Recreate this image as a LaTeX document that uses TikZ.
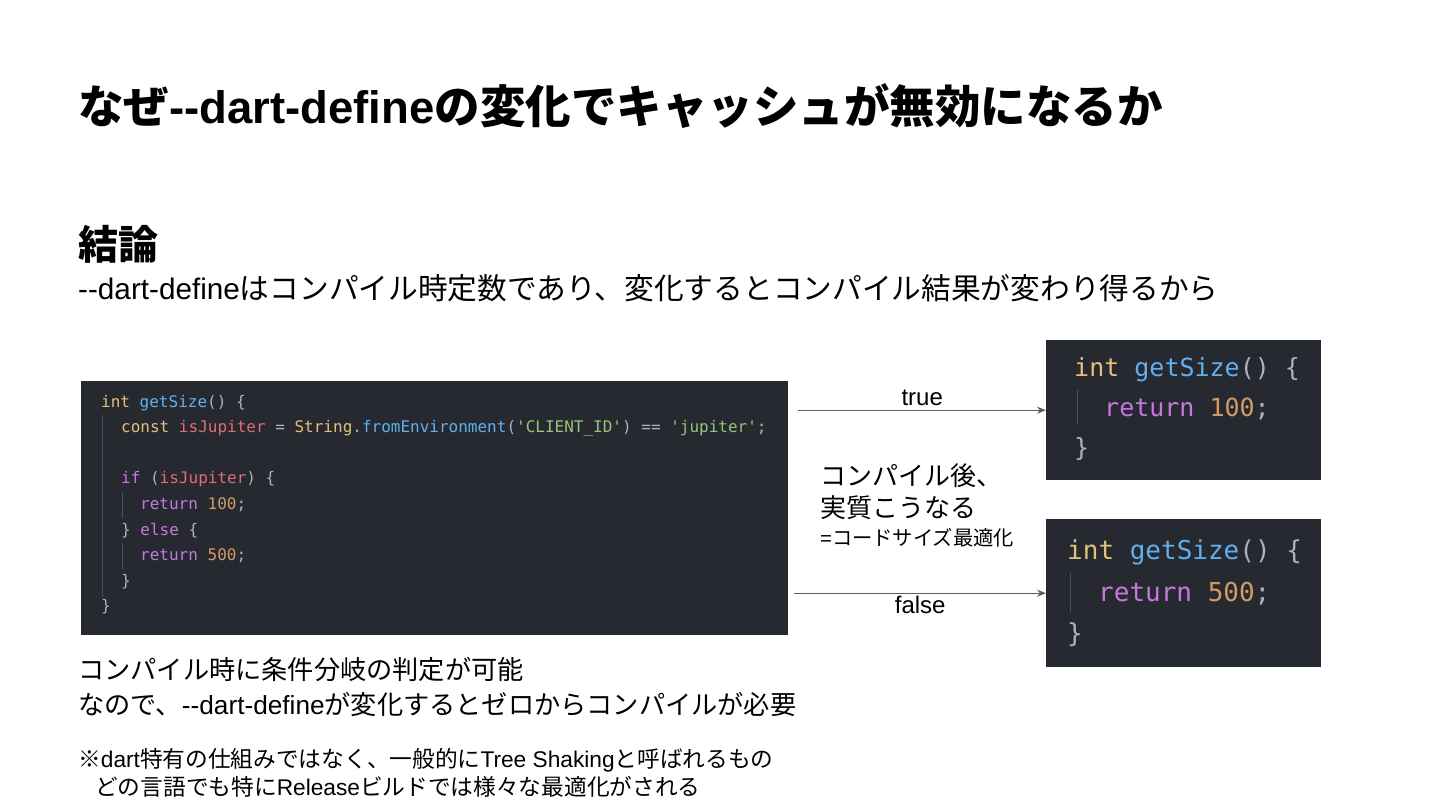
\documentclass[tikz,border=0pt]{standalone}
\usepackage{fontspec}
\setmainfont{Liberation Sans}
\setmonofont{DejaVu Sans Mono}
\newfontfamily\jp{Noto Sans CJK JP}
\usepackage{tikz}
\usetikzlibrary{arrows.meta,positioning,calc}
\definecolor{codebg}{HTML}{262930}
\definecolor{codefg}{HTML}{ABB2BF}
\definecolor{codeguide}{HTML}{4B5263}
\definecolor{tokyel}{HTML}{E5C07B}
\definecolor{tokblu}{HTML}{61AFEF}
\definecolor{tokred}{HTML}{E06C75}
\definecolor{tokgrn}{HTML}{98C379}
\definecolor{tokpur}{HTML}{C678DD}
\definecolor{tokorg}{HTML}{D19A66}
\definecolor{flowgray}{HTML}{5F5F5F}
\newcommand\J[1]{{\jp #1}}
\newcommand\tkY[1]{\textcolor{tokyel}{#1}}
\newcommand\tkB[1]{\textcolor{tokblu}{#1}}
\newcommand\tkR[1]{\textcolor{tokred}{#1}}
\newcommand\tkG[1]{\textcolor{tokgrn}{#1}}
\newcommand\tkP[1]{\textcolor{tokpur}{#1}}
\newcommand\tkO[1]{\textcolor{tokorg}{#1}}

\begin{document}
\begin{tikzpicture}[
  x=1pt, y=-1pt,
  txt/.style={anchor=base west, inner sep=0pt, align=left},
  ttl/.style={txt, font=\fontsize{45.5}{50}\selectfont\bfseries},
  hd/.style={txt, font=\fontsize{40}{46}\selectfont\bfseries},
  body/.style={txt, font=\fontsize{29.7}{34}\selectfont},
  note/.style={txt, font=\fontsize{22.7}{26}\selectfont},
  codebox/.style={fill=codebg, draw=none, anchor=north west, inner sep=0pt},
  code/.style={txt, text=codefg, font=\fontsize{16}{16}\selectfont\ttfamily},
  bigcode/.style={txt, text=codefg, font=\fontsize{25}{25}\selectfont\ttfamily},
  guide/.style={draw=codeguide, line width=1pt},
  flow/.style={draw=flowgray, line width=1.3pt, -{Stealth[length=9pt, width=7pt]}},
  lbl/.style={font=\fontsize{24}{28}\selectfont, inner sep=2pt},
]
\useasboundingbox[fill=white] (0,0) rectangle (1440,810);
% headings
\node[ttl] (title) at (78,124) {\J{なぜ}-{}-dart-define\J{の変化でキャッシュが無効になるか}};
\node[hd] (concl) at (78,260) {\J{結論}};
\node[body] (reason) at (78,299) {-{}-dart-define\J{はコンパイル時定数であり、変化するとコンパイル結果が変わり得るから}};
% source code
\node[codebox, minimum width=707pt, minimum height=254pt] (src) at (81,381) {};
\draw[guide] (102,415) -- (102,597);
\draw[guide] (122,492) -- (122,518);
\draw[guide] (122,543) -- (122,569);
\node[code] (s0) at (101,407) {\tkY{int} \tkB{getSize}() \{};
\node[code] (s1) at (121,432.6) {\tkY{const} \tkR{isJupiter} = \tkY{String}.\tkB{fromEnvironment}(\tkG{'CLIENT\_ID'}) == \tkG{'jupiter'};};
\node[code] (s3) at (121,483.8) {\tkP{if} (\tkR{isJupiter}) \{};
\node[code] (s4) at (140,509.4) {\tkP{return} \tkO{100};};
\node[code] (s5) at (121,535) {\} \tkP{else} \{};
\node[code] (s6) at (140,560.6) {\tkP{return} \tkO{500};};
\node[code] (s7) at (121,586.2) {\}};
\node[code] (s8) at (101,611.8) {\}};
% compiled results
\node[codebox, minimum width=275pt, minimum height=140pt] (dstT) at (1046,340) {};
\draw[guide] (1077,390) -- (1077,425);
\node[bigcode] (t0) at (1074,376) {\tkY{int} \tkB{getSize}() \{};
\node[bigcode] (t1) at (1104,416) {\tkP{return} \tkO{100};};
\node[bigcode] (t2) at (1074,456) {\}};
\node[codebox, minimum width=275pt, minimum height=148pt] (dstF) at (1046,519) {};
\draw[guide] (1070,573) -- (1070,612);
\node[bigcode, font=\fontsize{26}{26}\selectfont\ttfamily] (f0) at (1067,559) {\tkY{int} \tkB{getSize}() \{};
\node[bigcode, font=\fontsize{26}{26}\selectfont\ttfamily] (f1) at (1098,601) {\tkP{return} \tkO{500};};
\node[bigcode, font=\fontsize{26}{26}\selectfont\ttfamily] (f2) at (1067,642) {\}};
% branches
\draw[flow] ([xshift=10pt]src.east |- dstT.west) -- node[lbl, above=2pt] {true} (dstT.west);
\draw[flow] ([xshift=6pt]src.east |- dstF.west) -- node[lbl, below] {false} (dstF.west);
\node[txt, font=\fontsize{26}{30}\selectfont] (after) at (820,485) {\J{コンパイル後、}};
\node[txt, font=\fontsize{26}{30}\selectfont] (inpr) at (820,517) {\J{実質こうなる}};
\node[txt, font=\fontsize{20.3}{24}\selectfont] (opt) at (820,545) {=\J{コードサイズ最適化}};
% explanation
\node[txt, font=\fontsize{26.2}{30}\selectfont] (why1) at (78,679) {\J{コンパイル時に条件分岐の判定が可能}};
\node[txt, font=\fontsize{26.2}{30}\selectfont] (why2) at (78,714) {\J{なので、}-{}-dart-define\J{が変化するとゼロからコンパイルが必要}};
\node[note] (nb1) at (78,767) {\J{※}dart\J{特有の仕組みではなく、一般的に}Tree Shaking\J{と呼ばれるもの}};
\node[note] (nb2) at (95,795) {\J{どの言語でも特に}Release\J{ビルドでは様々な最適化がされる}};
\end{tikzpicture}
\end{document}
